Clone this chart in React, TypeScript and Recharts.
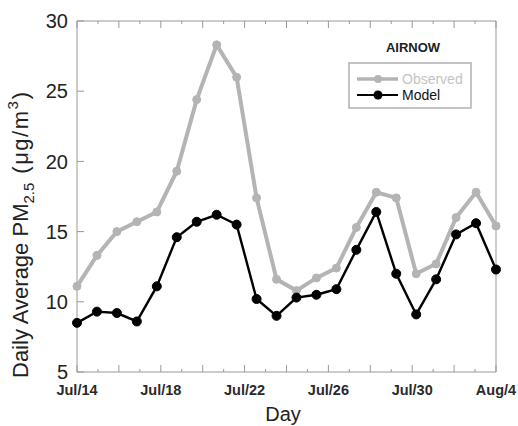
import React from "react";
import { LineChart, Line, XAxis, YAxis } from "recharts";

const dayIndex = [0, 1, 2, 3, 4, 5, 6, 7, 8, 9, 10, 11, 12, 13, 14, 15, 16, 17, 18, 19, 20, 21];
const observed = [11.1, 13.3, 15.0, 15.7, 16.4, 19.3, 24.4, 28.3, 26.0, 17.4, 11.6, 10.8, 11.7, 12.4, 15.3, 17.8, 17.4, 12.0, 12.7, 16.0, 17.8, 15.4];
const model = [8.5, 9.3, 9.2, 8.6, 11.1, 14.6, 15.7, 16.2, 15.5, 10.2, 9.0, 10.3, 10.5, 10.9, 13.7, 16.4, 12.0, 9.1, 11.6, 14.8, 15.6, 12.3];
const yTicks = [5, 10, 15, 20, 25, 30];
const tickCount = 21;
const tickLabels = ["Jul/14", "", "", "", "Jul/18", "", "", "", "Jul/22", "", "", "", "Jul/26", "", "", "", "Jul/30", "", "", "", "Aug/4"];
const xTicks = tickLabels.map((_, k) => (k * (dayIndex.length - 1)) / (tickCount - 1));

const data = dayIndex.map((d, i) => ({ day: d, observed: observed[i], model: model[i] }));

const AXIS = "#999999";
const OBS = "#b4b4b4";
const FONT = "Liberation Sans, Arial, sans-serif";
const TS = 6;
const TM = 2;
const OFF = TS + TM;

const tickIndex = (v: number) => Math.round((v * (tickCount - 1)) / (dayIndex.length - 1));

const BottomTick = (props: any) => {
  const { x, payload } = props;
  const y = props.y - OFF;
  const k = tickIndex(payload.value);
  const len = k % 2 === 0 ? 7 : 3;
  return (
    <g>
      <line x1={x} y1={y} x2={x} y2={y - len} stroke={AXIS} strokeWidth={1} />
      {tickLabels[k] ? (
        <text x={x} y={y + 23} textAnchor="middle" fontFamily={FONT} fontSize={14.5} fontWeight="bold" fill="#2a2a2a">
          {tickLabels[k]}
        </text>
      ) : null}
    </g>
  );
};

const TopTick = (props: any) => {
  const { x, payload } = props;
  const y = props.y + OFF;
  const k = tickIndex(payload.value);
  const len = k % 2 === 0 ? 7 : 3;
  return <line x1={x} y1={y} x2={x} y2={y + len} stroke={AXIS} strokeWidth={1} />;
};

const LeftTick = (props: any) => {
  const { y, payload } = props;
  const x = props.x + OFF;
  return (
    <g>
      <line x1={x} y1={y} x2={x + 7} y2={y} stroke={AXIS} strokeWidth={1} />
      <text x={x - 9} y={y} dy="0.36em" textAnchor="end" fontFamily={FONT} fontSize={20} fill="#222">
        {payload.value}
      </text>
    </g>
  );
};

const RightTick = (props: any) => {
  const { y } = props;
  const x = props.x - OFF;
  return <line x1={x} y1={y} x2={x - 7} y2={y} stroke={AXIS} strokeWidth={1} />;
};

const YLabel = () => (
  <text
    transform="rotate(-90, 28, 378)"
    x={28}
    y={378}
    textAnchor="start"
    fontFamily={FONT}
    fontSize={22}
    fill="#222"
  >
    <tspan>Daily Average PM</tspan>
    <tspan fontSize={15} dy={6}>2.5</tspan>
    <tspan dy={-6} dx={9} letterSpacing={1.5}>{"(\u03bcg/m"}</tspan>
    <tspan fontSize={15} dy={-10}>3</tspan>
    <tspan dy={10} dx={2}>)</tspan>
  </text>
);

const XLabel = () => (
  <text x={283} y={421} textAnchor="middle" fontFamily={FONT} fontSize={20} fill="#222">
    Day
  </text>
);

const LegendBox = () => (
  <svg width={180} height={90} style={{ display: "block" }}>
    <text x={73} y={22} textAnchor="middle" fontFamily={FONT} fontSize={13} fontWeight="bold" fill="#222">
      AIRNOW
    </text>
    <rect x={9} y={33} width={122} height={45} fill="#fff" stroke="#b0b0b0" strokeWidth={1.5} />
    <line x1={17} y1={49} x2={58} y2={49} stroke={OBS} strokeWidth={3.5} />
    <circle cx={38} cy={49} r={4} fill={OBS} />
    <text x={62} y={54} fontFamily={FONT} fontSize={14} fill="#c4c4c4">Observed</text>
    <line x1={17} y1={65} x2={58} y2={65} stroke="#000" strokeWidth={2.2} />
    <circle cx={38} cy={65} r={4.5} fill="#000" />
    <text x={62} y={70} fontFamily={FONT} fontSize={14} fill="#111">Model</text>
  </svg>
);

export default function App() {
  return (
    <div style={{ position: "absolute", left: 0, top: 0, width: 518, height: 426 }}>
      <LineChart width={518} height={426} data={data} margin={{ top: 20, right: 21, left: 0, bottom: 0 }}>
        <XAxis
          xAxisId="bottom"
          dataKey="day"
          type="number"
          domain={[0, dayIndex.length - 1]}
          ticks={xTicks}
          interval={0}
          height={54}
          tickSize={TS}
          tickMargin={TM}
          tickLine={{ stroke: "none" }}
          tick={<BottomTick />}
          stroke={AXIS}
          label={<XLabel />}
        />
        <XAxis
          xAxisId="top"
          orientation="top"
          dataKey="day"
          type="number"
          domain={[0, dayIndex.length - 1]}
          ticks={xTicks}
          interval={0}
          height={1}
          tickSize={TS}
          tickMargin={TM}
          tickLine={{ stroke: "none" }}
          tick={<TopTick />}
          stroke={AXIS}
        />
        <YAxis
          yAxisId="left"
          type="number"
          domain={[5, 30]}
          ticks={yTicks}
          interval={0}
          width={77}
          tickSize={TS}
          tickMargin={TM}
          tickLine={{ stroke: "none" }}
          tick={<LeftTick />}
          stroke={AXIS}
          label={<YLabel />}
        />
        <YAxis
          yAxisId="right"
          orientation="right"
          type="number"
          domain={[5, 30]}
          ticks={yTicks}
          interval={0}
          width={1}
          tickSize={TS}
          tickMargin={TM}
          tickLine={{ stroke: "none" }}
          tick={<RightTick />}
          stroke={AXIS}
        />
        <Line
          xAxisId="bottom"
          yAxisId="left"
          dataKey="observed"
          name="Observed"
          stroke={OBS}
          strokeWidth={4}
          dot={{ r: 4, fill: OBS, stroke: OBS, strokeWidth: 1 }}
          isAnimationActive={false}
        />
        <Line
          xAxisId="bottom"
          yAxisId="left"
          dataKey="model"
          name="Model"
          stroke="#000"
          strokeWidth={2.4}
          dot={{ r: 4.5, fill: "#000", stroke: "#000", strokeWidth: 1 }}
          isAnimationActive={false}
        />
      </LineChart>
      <div style={{ position: "absolute", left: 340, top: 30, width: 180, height: 90 }}>
        <LegendBox />
      </div>
    </div>
  );
}
